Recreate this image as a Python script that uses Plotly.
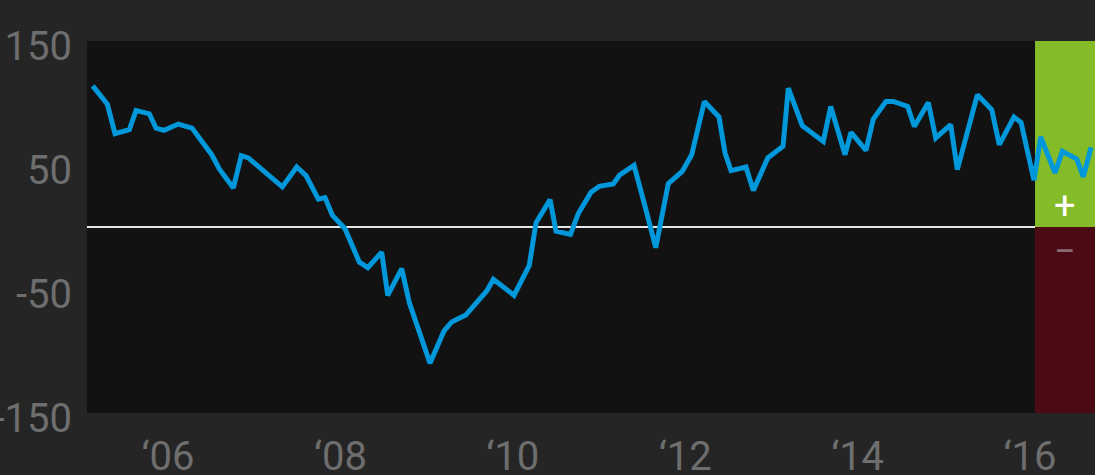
import plotly.graph_objects as go

# decimal-year positions and index values
years = [2005.126, 2005.296, 2005.385, 2005.551, 2005.629, 2005.783, 2005.861, 2005.954,
         2006.119, 2006.278, 2006.507, 2006.595, 2006.758, 2006.850, 2006.932,
         2007.241, 2007.326, 2007.493, 2007.601, 2007.744, 2007.821, 2007.908,
         2008.053, 2008.219, 2008.317, 2008.479, 2008.549, 2008.711, 2008.799,
         2009.039, 2009.202, 2009.291, 2009.454, 2009.697, 2009.774,
         2010.014, 2010.191, 2010.269, 2010.432, 2010.501, 2010.669, 2010.760, 2010.907,
         2011.003, 2011.166, 2011.236, 2011.406, 2011.534, 2011.658, 2011.804, 2011.966,
         2012.075, 2012.222, 2012.392, 2012.462, 2012.531, 2012.705, 2012.790, 2012.958,
         2013.135, 2013.196, 2013.358, 2013.602, 2013.688, 2013.854, 2013.923,
         2014.097, 2014.182, 2014.329, 2014.414, 2014.581, 2014.658, 2014.820, 2014.906,
         2015.080, 2015.157, 2015.389, 2015.556, 2015.644, 2015.814, 2015.896,
         2016.046, 2016.124, 2016.290, 2016.375, 2016.542, 2016.618, 2016.708]
values = [113.8, 99.1, 75.2, 78.4, 94.0, 91.3, 79.8, 77.9,
          83.0, 79.8, 58.3, 46.8, 31.5, 57.5, 55.7,
          38.2, 32.3, 48.4, 41.4, 22.5, 23.7, 9.3,
          -1.4, -28.3, -32.8, -20.3, -55.1, -33.6, -61.0,
          -109.8, -83.8, -76.6, -71.0, -51.6, -42.2,
          -55.1, -31.0, 3.4, 22.1, -3.4, -6.0, 10.9, 28.0,
          32.8, 34.8, 41.7, 49.7, 16.7, -16.7, 35.0, 44.9,
          58.3, 101.2, 88.7, 59.7, 45.5, 48.4, 29.4, 55.7,
          65.2, 112.0, 81.7, 69.0, 97.2, 58.3, 76.3,
          61.8, 87.0, 101.2, 101.2, 97.2, 81.1, 100.4, 71.8,
          82.5, 46.3, 106.6, 94.5, 66.4, 88.7, 84.3,
          37.7, 72.6, 43.6, 61.0, 54.9, 40.4, 64.2]

x_tickvals = [2006, 2008, 2010, 2012, 2014, 2016]
x_ticktext = ["‘06", "‘08", "‘10", "‘12", "‘14", "‘16"]
y_tickvals = [-150, -50, 50, 150]
y_ticktext = ["-150", "-50", "50", "150"]

BG = "#252525"
PLOT_BG = "#121212"
LINE = "#0098DA"
GREEN = "#84BB29"
RED = "#4A0B14"
TICK = "#6E6E6E"
FONT = "Roboto, sans-serif"

X_MIN, X_MAX = 2005.060, 2016.754
BAND_START = 2016.058
BAND_MID = (BAND_START + X_MAX) / 2

fig = go.Figure()
fig.add_trace(go.Scatter(x=years, y=values, mode="lines",
                         line=dict(color=LINE, width=5), hoverinfo="x+y",
                         showlegend=False))

# right-side +/- band
fig.add_shape(type="rect", xref="x", yref="y", x0=BAND_START, x1=X_MAX, y0=0, y1=150,
              fillcolor=GREEN, line_width=0, layer="below")
fig.add_shape(type="rect", xref="x", yref="y", x0=BAND_START, x1=X_MAX, y0=-150, y1=0,
              fillcolor=RED, line_width=0, layer="below")
# zero line
fig.add_shape(type="line", xref="x", yref="y", x0=X_MIN, x1=BAND_START, y0=0, y1=0,
              line=dict(color="#E6E6E6", width=2), layer="below")

fig.add_annotation(xref="x", yref="y", x=BAND_MID, y=17, text="+",
                   xanchor="center", yanchor="middle",
                   showarrow=False, font=dict(family=FONT, size=38, color="#FFFFFF"))
fig.add_annotation(xref="x", yref="y", x=BAND_MID, y=-19, text="−",
                   xanchor="center", yanchor="middle",
                   showarrow=False, font=dict(family=FONT, size=38, color="#8C6A72"))

fig.update_layout(
    width=1095, height=475,
    margin=dict(l=87, r=0, t=41, b=62, autoexpand=False),
    paper_bgcolor=BG, plot_bgcolor=PLOT_BG,
    font=dict(family=FONT, color=TICK, size=40),
    xaxis=dict(range=[X_MIN, X_MAX], tickvals=x_tickvals, ticktext=x_ticktext,
               showgrid=False, zeroline=False, showline=False, automargin=False,
               ticks="outside", ticklen=8, tickcolor=BG,
               tickfont=dict(family=FONT, size=40, color=TICK)),
    yaxis=dict(range=[-150, 150], tickvals=y_tickvals, ticktext=y_ticktext,
               showgrid=False, zeroline=False, showline=False, automargin=False,
               ticks="outside", ticklen=6, tickcolor=BG,
               ticklabelshift=5,
               tickfont=dict(family=FONT, size=40, color=TICK)),
)

fig.write_html("out.html", config={"displayModeBar": False},
               post_script="document.body.style.margin='0';document.body.style.overflow='hidden';")
